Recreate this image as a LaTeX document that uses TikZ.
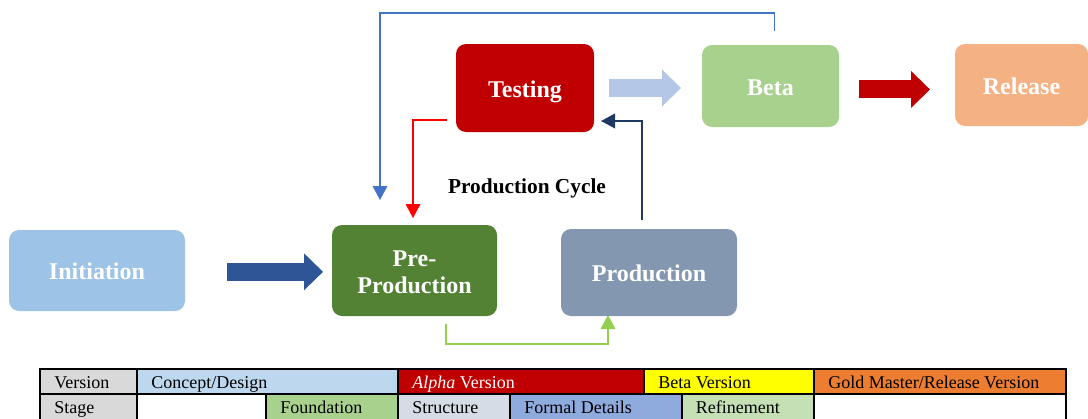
\documentclass[tikz,border=0pt]{standalone}
\usepackage{fontspec}
\setmainfont{Liberation Serif}
\usetikzlibrary{calc,arrows.meta,positioning}

\definecolor{initblue}{HTML}{9DC3E6}
\definecolor{pregreen}{HTML}{548235}
\definecolor{prodgray}{HTML}{8497B0}
\definecolor{testred}{HTML}{C00000}
\definecolor{betagreen}{HTML}{A9D18E}
\definecolor{relorange}{HTML}{F4B183}
\definecolor{arrowblue}{HTML}{2F5597}
\definecolor{arrowpale}{HTML}{B4C7E7}
\definecolor{loopblue}{HTML}{4472C4}
\definecolor{loopnavy}{HTML}{203864}
\definecolor{loopgreen}{HTML}{92D050}
\definecolor{cellgray}{HTML}{D9D9D9}
\definecolor{conceptblue}{HTML}{BDD7EE}
\definecolor{betayellow}{HTML}{FFFF00}
\definecolor{goldorange}{HTML}{ED7D31}
\definecolor{structgray}{HTML}{D6DCE5}
\definecolor{formalblue}{HTML}{8FAADC}
\definecolor{refinegreen}{HTML}{C5E0B4}

\tikzset{
    stage box/.style={
        rounded corners=7.5pt, inner sep=0pt, outer sep=0pt,
        text=white, align=center, text height=15pt, text depth=1pt,
        font=\fontsize{18}{20.25}\selectfont\bfseries
    },
    block arrow/.style={line width=13.5pt,
        -{Triangle[length=14.25pt,width=27.75pt,line width=0pt]}},
    cycle line/.style={line width=1pt,
        -{Triangle[length=10.5pt,width=11pt]}},
    table cell/.style={draw=black,line width=1.5pt},
    cell text/.style={anchor=base west,inner sep=0pt,
        font=\fontsize{13.5}{15}\selectfont}
}

\begin{document}
\begin{tikzpicture}[x=0.75pt,y=-0.75pt]
\useasboundingbox (0,0) rectangle (1088,418);

% stages
\node[stage box,fill=initblue,minimum width=132pt,minimum height=60.75pt] (init) at (97,270.5) {Initiation};
\node[stage box,fill=pregreen,minimum width=123.75pt,minimum height=68.25pt,text height=35.25pt] (pre) at (414.5,270.5) {Pre-\\Production};
\node[stage box,fill=prodgray,minimum width=132pt,minimum height=65.25pt] (prod) at (649,272.5) {Production};
\node[stage box,fill=testred,minimum width=103.5pt,minimum height=66pt] (test) at (525,88) {Testing};
\node[stage box,fill=betagreen,minimum width=102.75pt,minimum height=61.5pt] (beta) at (770.5,86) {Beta};
\node[stage box,fill=relorange,minimum width=99.75pt,minimum height=61.5pt] (rel) at (1021.5,85) {Release};

\node[font=\fontsize{16}{18}\selectfont\bfseries] (cycle) at (527,188) {Production Cycle};

% block arrows
\draw[block arrow,arrowblue,shorten <=31.5pt,shorten >=6.75pt] ([yshift=-1pt]init.east) -- ([yshift=-1pt]init.east -| pre.west);
\draw[block arrow,arrowpale,shorten <=11.25pt,shorten >=15.75pt] (test.east) -- (test.east -| beta.west);
\draw[block arrow,testred,shorten <=15pt,shorten >=18.75pt] ([yshift=-2.6pt]beta.east) -- ([yshift=-2.6pt]beta.east -| rel.west);

% cycle
\coordinate (loopcorner) at (380,13);
\draw[cycle line,loopblue] ($(beta.north)+(4,-14)$) |- (loopcorner) -- ($(pre.north -| loopcorner)+(0,-25)$);
\draw[cycle line,red] ($(test.west)+(-9,32)$) -| ($(pre.north)+(-1.5,-7)$);
\draw[cycle line,loopnavy] ($(prod.north)+(-7,-9)$) |- ($(test.east)+(7,33)$);
\draw[cycle line,loopgreen] ($(pre.south)+(31.5,8)$) -- ++(0,20) -| ($(prod.south)+(-41,-1)$);

% version / stage table
\foreach \xa/\xb/\fillc/\textc/\txt [count=\i] in {
    40/137/cellgray/black/Version,
    137/398/conceptblue/black/{Concept/Design},
    398/644/testred/white/{\textit{Alpha} Version},
    644/814/betayellow/black/{Beta Version},
    814/1066/goldorange/black/{Gold Master/Release Version}}
{
    \draw[table cell,fill=\fillc] (\xa,369) rectangle (\xb,394);
    \node[cell text,text=\textc] (ver\i) at (\xa+14,388) {\txt};
}
\foreach \xa/\xb/\fillc/\txt [count=\i] in {
    40/137/cellgray/Stage,
    137/266/white/{},
    266/398/betagreen/Foundation,
    398/510/structgray/Structure,
    510/681.6/formalblue/{Formal Details},
    681.6/814/refinegreen/Refinement,
    814/1066/white/{}}
{
    \draw[table cell,fill=\fillc] (\xa,394) rectangle (\xb,420);
    \node[cell text] (stg\i) at (\xa+14,413.5) {\txt};
}
\end{tikzpicture}
\end{document}
